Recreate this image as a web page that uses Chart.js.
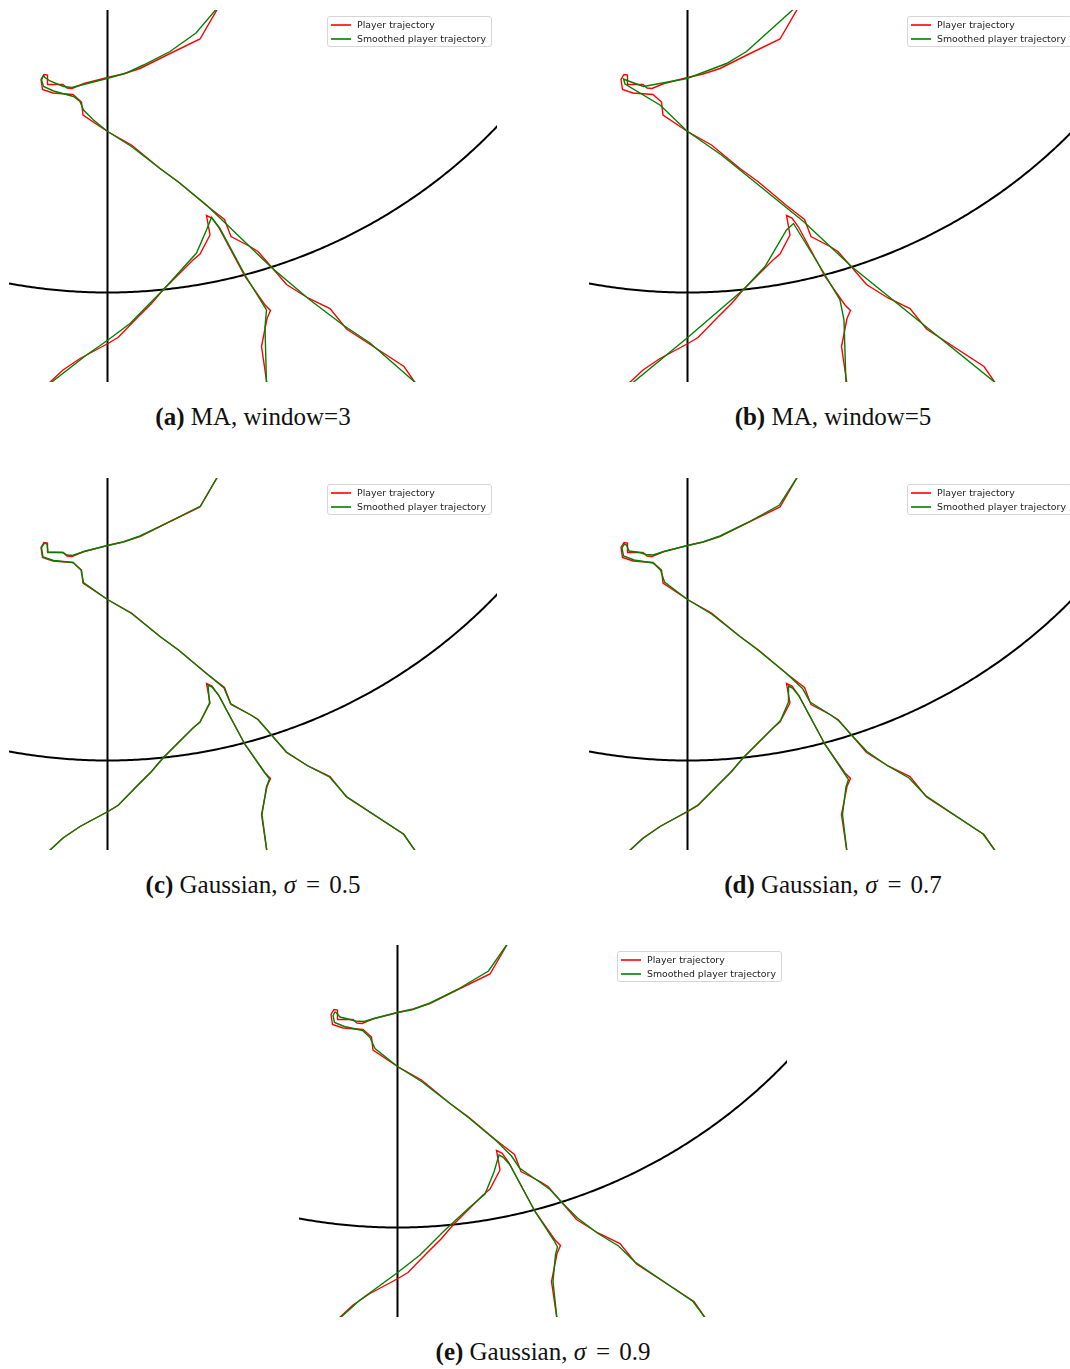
<!DOCTYPE html>
<html>
<head>
<meta charset="utf-8">
<script src="https://cdn.jsdelivr.net/npm/chart.js@4.4.1/dist/chart.umd.min.js"></script>
<style>
  body { margin: 0; width: 1070px; height: 1369px; overflow: hidden; background: #fff; position: relative; }
  .plot { position: absolute; width: 488px; height: 372px; }
  .legend {
    position: absolute; width: 165px; height: 31px; box-sizing: border-box;
    border: 1px solid #d6d6d6; border-radius: 3px; background: rgba(255,255,255,0.85);
    font-family: 'DejaVu Sans', sans-serif; font-size: 9.4px; color: #222;
  }
  .legend .row { position: absolute; left: 0; height: 12px; line-height: 12px; white-space: nowrap; }
  .legend .swatch { position: absolute; left: 3px; top: 5px; width: 20px; height: 2px; opacity: 0.8; }
  .legend .name { position: absolute; left: 29px; top: 0; }
  .caption {
    position: absolute; width: 488px; text-align: center; white-space: nowrap;
    font-family: 'Liberation Serif', serif; font-size: 25px; color: #111; line-height: 30px;
  }
  .caption b { font-weight: bold; }
  .caption .eq { margin: 0 9px 0 10px; }
</style>
</head>
<body>
<script>
// court geometry (same units as the tracking data)
const courtLineX = 107.5;
const arcCenterX = 107.5;
const arcCenterY = -247.5;
const arcRadius = 540;
const viewX = [9, 497];
const viewY = [10, 382];

const seriesNames = ['Player trajectory', 'Smoothed player trajectory'];
const rawColor = '#ff0000';
const smoothColor = '#008000';

// raw tracking, first pass (enters at the top, leaves bottom right)
const rawEntry = [
  [218, 8], [200, 39], [167, 55], [140, 68.5], [123, 74], [107.5, 77.5], [84, 83.5], [72, 88.5],
  [67, 88], [63, 84.5], [47, 84.5], [47.5, 75], [44, 74.5], [41, 79.5], [42.5, 89.5], [53, 93],
  [73, 94.5], [81.5, 102], [83, 115], [107.5, 131.5], [131.5, 145], [160, 168.5], [178.5, 182],
  [206.5, 205.5], [224.5, 219.5], [231, 236.5], [250, 246.5], [258, 251.5], [271.5, 267],
  [286.5, 284.5], [308, 298], [330, 308.5], [346.5, 329], [404, 366.5], [416, 384],
];
// raw tracking, second pass (bottom left up to the turn, then back down)
const rawReturn = [
  [48, 384], [63, 370], [80, 358.5], [108, 343.5], [118, 337.5], [136.5, 318.5], [151.5, 303.5],
  [163, 290], [183, 270], [193, 260], [200, 254], [210, 235], [206.5, 215.5], [212, 218],
  [218.5, 227], [245, 276.5], [265, 305], [270.5, 310.5], [267, 318.5], [261.5, 346.5], [267, 384],
];

// moving average, window 3
const ma3Entry = [
  [219, 6], [196, 33], [170, 51.5], [143.5, 65], [126.5, 73], [107, 78.5], [83.5, 84.5], [72, 87.5],
  [63.5, 86.5], [50, 81], [45, 77.5], [43.5, 75.5], [41.5, 80], [43.5, 86.5], [53.5, 91], [73.5, 96.5],
  [80, 101.5], [83.5, 110], [93.5, 120], [107, 131], [131.5, 146.5], [160, 168.5], [179, 182.5],
  [206.5, 205], [271.5, 267.5], [310, 300], [343, 325], [370, 343], [417, 384],
];
const ma3Return = [
  [48, 385], [86.5, 355], [108, 340], [130, 323.5], [163.5, 289.5], [196.5, 253], [206.5, 230],
  [211.5, 217.5], [220, 228.5], [245, 275], [266.5, 310], [265, 327], [266.5, 384],
];

// moving average, window 5
const ma5Entry = [
  [217, 6], [166.5, 51.5], [146.5, 63.5], [107, 78.5], [63.5, 86.5], [47, 80.5], [43.5, 79],
  [45, 84], [80, 105], [107, 131], [141.5, 155], [223.5, 221.5], [271.5, 266.5], [417, 384],
];
const ma5Return = [
  [50, 385], [106.5, 338.5], [163.5, 289.5], [185, 266.5], [206.5, 230], [213.5, 223.5],
  [240, 266.5], [260, 300], [264, 320], [266, 384],
];

// gaussian, sigma 0.5
const g05Entry = [
  [218, 8], [200.5, 38], [167, 55], [140, 68], [123, 74], [107.5, 77.5], [84, 83.5], [72.5, 87.5],
  [67, 87], [63, 84.5], [48, 84], [47, 76], [44.5, 75], [41.5, 79.5], [43, 89], [53.5, 92.5],
  [73, 94.5], [81, 102], [83.5, 114.5], [107.5, 131.5], [131.5, 145.5], [160, 168.5], [178.5, 182],
  [206.5, 205.5], [224, 220], [230.5, 235.5], [250, 246.5], [258, 251.5], [271.5, 267], [286.5, 284],
  [308, 298], [329.5, 309], [346.5, 328.5], [403.5, 366], [416, 384],
];
const g05Return = [
  [48, 384], [63, 370], [80, 358.5], [108, 343.5], [118.5, 337], [136.5, 318.5], [151.5, 303.5],
  [163, 290], [183, 270], [193, 260], [200, 254], [209.5, 235], [208, 217], [212, 219],
  [218.5, 227], [245, 276.5], [265, 305], [269.5, 311], [266.5, 318.5], [262, 346.5], [267, 384],
];

// gaussian, sigma 0.7
const g07Entry = [
  [218, 8], [199.5, 37], [167, 55], [140, 68], [123, 74], [107.5, 77.5], [84, 83.5], [73, 87],
  [66, 86.5], [60, 84.5], [49, 83], [46.5, 77], [44.5, 76], [42, 80], [43.5, 88], [54, 92],
  [73, 95], [80.5, 102], [84.5, 114], [107.5, 131.5], [131.5, 146], [160, 168.5], [178.5, 182.5],
  [206.5, 205.5], [222.5, 220.5], [230, 234], [250, 246.5], [259, 253], [271.5, 267], [287, 283.5],
  [308, 298], [329, 310], [345.5, 327.5], [403, 366], [416, 384],
];
const g07Return = [
  [48, 384], [63, 370.5], [80, 358.5], [108, 343], [118.5, 336.5], [136.5, 318.5], [151.5, 303.5],
  [163, 290], [183, 270], [194, 259], [200.5, 252.5], [208.5, 234], [208.5, 218], [212.5, 220],
  [219, 228], [245, 276.5], [264.5, 305.5], [268.5, 311.5], [266, 319], [262.5, 346.5], [267, 384],
];

// gaussian, sigma 0.9
const g09Entry = [
  [218, 8], [198.5, 36], [167.5, 54.5], [140, 68], [123, 74.5], [107.5, 77.5], [84.5, 83.5],
  [74, 86.5], [65.5, 86], [58, 84], [50, 82], [46.5, 78], [45, 77], [43, 80.5], [44.5, 87.5],
  [54.5, 91.5], [72.5, 95.5], [80, 102.5], [85, 113.5], [107.5, 131.5], [131.5, 146.5], [160, 168.5],
  [179, 183], [206.5, 206], [221.5, 221], [229.5, 233], [249.5, 247], [260, 254.5], [272, 267.5],
  [287.5, 283], [308, 298.5], [328.5, 311], [345, 327], [403, 366.5], [416, 384],
];
const g09Return = [
  [49, 384], [70, 365], [107, 338], [130, 320], [155, 295], [180, 272], [195, 259], [204, 237],
  [209, 220], [213, 222], [220, 230], [245, 276.5], [264, 305.5], [267.5, 312], [265.5, 319.5],
  [263, 346.5], [267, 384],
];

const panels = [
  { left: 0, top: 0, tag: '(a)', title: 'MA, window=3', entry: ma3Entry, back: ma3Return },
  { left: 580, top: 0, tag: '(b)', title: 'MA, window=5', entry: ma5Entry, back: ma5Return },
  { left: 0, top: 468, tag: '(c)', title: 'Gaussian, <i>σ</i><span class="eq">=</span>0.5', entry: g05Entry, back: g05Return },
  { left: 580, top: 468, tag: '(d)', title: 'Gaussian, <i>σ</i><span class="eq">=</span>0.7', entry: g07Entry, back: g07Return },
  { left: 290, top: 935, tag: '(e)', title: 'Gaussian, <i>σ</i><span class="eq">=</span>0.9', entry: g09Entry, back: g09Return },
];

const toPoints = (pairs) => pairs.map(([x, y]) => ({ x, y }));

// points along the three point arc
const arcPoints = () => {
  const pts = [];
  for (let t = -0.3; t <= 1.0; t += 0.005) {
    pts.push({ x: arcCenterX + arcRadius * Math.sin(t), y: arcCenterY + arcRadius * Math.cos(t) });
  }
  return pts;
};

const trackSet = (label, pairs, color, order) => ({
  label,
  data: toPoints(pairs),
  showLine: true,
  borderColor: color,
  borderWidth: 1.4,
  pointRadius: 0,
  tension: 0,
  order,
});

const courtSet = (data) => ({
  label: 'court',
  data,
  showLine: true,
  borderColor: '#000',
  borderWidth: 2,
  pointRadius: 0,
  tension: 0,
  order: 3,
});

const drawPanel = (p) => {
  const canvas = document.createElement('canvas');
  canvas.className = 'plot';
  canvas.width = 488;
  canvas.height = 372;
  canvas.style.left = `${p.left + viewX[0]}px`;
  canvas.style.top = `${p.top + viewY[0]}px`;
  document.body.appendChild(canvas);

  new Chart(canvas.getContext('2d'), {
    type: 'scatter',
    data: {
      datasets: [
        trackSet(seriesNames[1], p.entry, smoothColor, 0),
        trackSet(seriesNames[1], p.back, smoothColor, 0),
        trackSet(seriesNames[0], rawEntry, rawColor, 1),
        trackSet(seriesNames[0], rawReturn, rawColor, 1),
        courtSet([{ x: courtLineX, y: viewY[0] - 5 }, { x: courtLineX, y: viewY[1] + 5 }]),
        courtSet(arcPoints()),
      ],
    },
    options: {
      responsive: false,
      animation: false,
      layout: { padding: 0 },
      plugins: { legend: { display: false }, tooltip: { enabled: false } },
      scales: {
        x: { type: 'linear', min: viewX[0], max: viewX[1], display: false },
        y: { type: 'linear', min: viewY[0], max: viewY[1], reverse: true, display: false },
      },
    },
  });

  // legend box in the upper right of the plot
  const legend = document.createElement('div');
  legend.className = 'legend';
  legend.style.left = `${p.left + 327}px`;
  legend.style.top = `${p.top + 16}px`;
  legend.innerHTML = `
    <div class="row" style="top:2px"><span class="swatch" style="background:${rawColor}"></span><span class="name">${seriesNames[0]}</span></div>
    <div class="row" style="top:16px"><span class="swatch" style="background:${smoothColor}"></span><span class="name">${seriesNames[1]}</span></div>`;
  document.body.appendChild(legend);

  const cap = document.createElement('div');
  cap.className = 'caption';
  cap.style.left = `${p.left + viewX[0]}px`;
  cap.style.top = `${p.top + 402}px`;
  cap.innerHTML = `<b>${p.tag}</b> ${p.title}`;
  document.body.appendChild(cap);
};

panels.forEach(drawPanel);
</script>
</body>
</html>
